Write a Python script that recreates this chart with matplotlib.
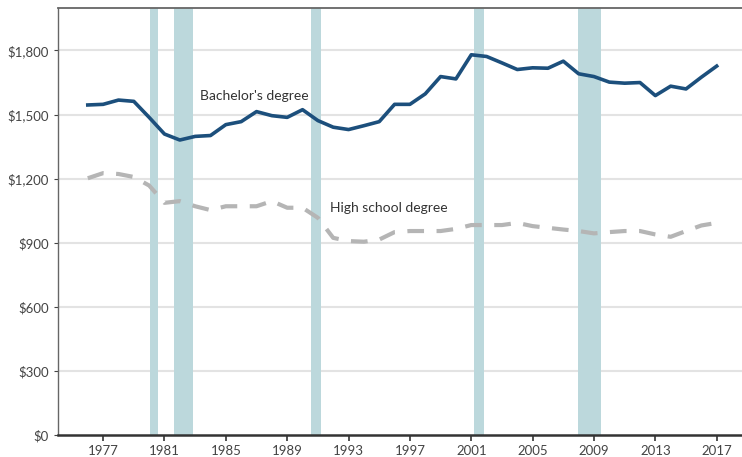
import matplotlib.pyplot as plt
from matplotlib.ticker import FuncFormatter

years = list(range(1976, 2018))
bachelors = [1545, 1548, 1568, 1562, 1487, 1409, 1381, 1398, 1402, 1453,
             1467, 1514, 1495, 1487, 1523, 1472, 1441, 1430, 1448, 1467,
             1548, 1548, 1597, 1678, 1667, 1780, 1772, 1742, 1711, 1719,
             1717, 1750, 1691, 1678, 1652, 1647, 1650, 1589, 1633, 1620,
             1675, 1727]
high_school = [1202, 1226, 1222, 1208, 1168, 1087, 1095, 1071, 1053, 1071,
               1071, 1071, 1095, 1064, 1064, 1017, 923, 908, 905, 915,
               950, 955, 955, 955, 965, 983, 983, 983, 993, 978,
               970, 962, 955, 944, 950, 955, 955, 939, 928, 955,
               981, 993]
recessions = [(1980.05, 1980.6), (1981.6, 1982.85), (1990.55, 1991.2),
              (2001.2, 2001.85), (2007.95, 2009.45)]
tick_years = list(range(1977, 2018, 4))

plt.rcParams['font.family'] = ['Lato', 'DejaVu Sans']

fig = plt.figure(figsize=(7.42, 4.57), dpi=100)
ax = fig.add_axes([0.078, 0.048, 0.922, 0.935])

for start, end in recessions:
    ax.axvspan(start, end, color='#bcd8dc', lw=0, zorder=1)

for v in range(300, 2000, 300):
    ax.axhline(v, color='#e3e3e3', lw=1.5, zorder=0)

ax.plot(years, high_school, color='#b5b5b5', lw=3, dashes=(4, 3), zorder=3)
ax.plot(years, bachelors, color='#1c4f7c', lw=2.6, zorder=4)

ax.text(1983.3, 1570, "Bachelor's degree", fontsize=10, color='#333333', zorder=5)
ax.text(1991.8, 1045, "High school degree", fontsize=10, color='#333333', zorder=5)

ax.set_xlim(1974.05, 2018.65)
ax.set_ylim(0, 2000)
ax.set_yticks(range(0, 1801, 300))
ax.yaxis.set_major_formatter(FuncFormatter(lambda v, p: '${:,.0f}'.format(v)))
ax.set_xticks(tick_years)

ax.spines['right'].set_visible(False)
ax.spines['top'].set_color('#666666')
ax.spines['left'].set_color('#666666')
ax.spines['bottom'].set_color('#333333')
ax.spines['bottom'].set_linewidth(1.8)
ax.spines['top'].set_linewidth(1.3)
ax.spines['left'].set_linewidth(1.0)
ax.tick_params(axis='both', labelsize=9.5, colors='#444444', length=3)
ax.tick_params(axis='x', length=4, width=1.2, color='#333333')

fig.savefig('out.png', dpi=100)
